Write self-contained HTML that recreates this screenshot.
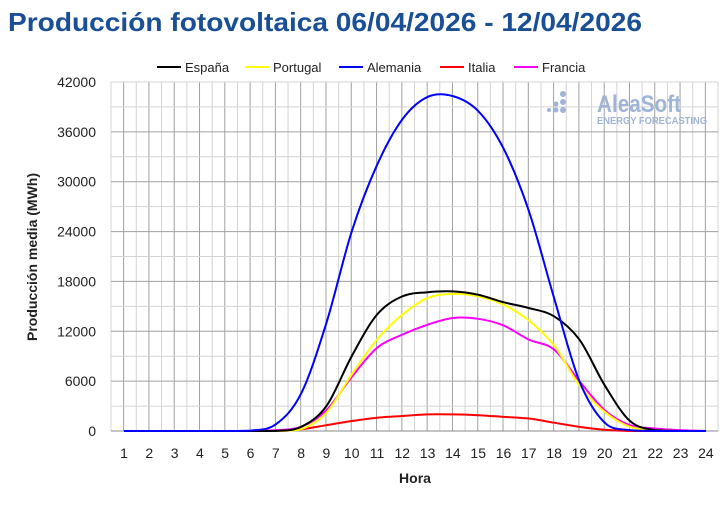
<!DOCTYPE html><html><head><meta charset="utf-8"><style>
body{margin:0;background:#fff;width:727px;height:509px;overflow:hidden;font-family:"Liberation Sans","DejaVu Sans",sans-serif}
</style></head><body>
<svg id="s" width="727" height="509" xmlns="http://www.w3.org/2000/svg" font-family="Liberation Sans, DejaVu Sans, sans-serif">
<text x="8" y="31" font-size="26" font-weight="bold" fill="#1a4f96" textLength="634" lengthAdjust="spacingAndGlyphs">Producción fotovoltaica 06/04/2026 - 12/04/2026</text>
<g id="grid"></g>
<text x="597" y="112" font-size="24" font-weight="bold" fill="#9fb4d6" textLength="84" lengthAdjust="spacingAndGlyphs">AleaSoft</text>
<g fill="#9fb4d6"><circle cx="563" cy="94" r="3"/><circle cx="563" cy="102" r="3"/><circle cx="563" cy="110" r="3"/><circle cx="556" cy="104" r="2.5"/><circle cx="556" cy="110" r="2.5"/><circle cx="549" cy="110" r="2"/></g>
<text x="597" y="124" font-size="10" font-weight="bold" fill="#9fb4d6" textLength="110" lengthAdjust="spacingAndGlyphs">ENERGY FORECASTING</text>
<g id="curves" fill="none" stroke-width="2"></g>
<g font-size="13" fill="#222">
<line x1="157" y1="67" x2="181" y2="67" stroke="#000" stroke-width="2"/><text x="185" y="72">España</text>
<line x1="245" y1="67" x2="269" y2="67" stroke="#ffff00" stroke-width="2"/><text x="273" y="72">Portugal</text>
<line x1="339" y1="67" x2="363" y2="67" stroke="#0000ff" stroke-width="2"/><text x="367" y="72">Alemania</text>
<line x1="440" y1="67" x2="464" y2="67" stroke="#ff0000" stroke-width="2"/><text x="468" y="72">Italia</text>
<line x1="514" y1="67" x2="538" y2="67" stroke="#ff00ff" stroke-width="2"/><text x="542" y="72">Francia</text>
</g>
<text transform="translate(37,257) rotate(-90)" text-anchor="middle" font-size="14" font-weight="bold" fill="#222">Producción media (MWh)</text>
<text x="415" y="483" text-anchor="middle" font-size="14" font-weight="bold" fill="#222">Hora</text>
</svg>
<script>
var ns="http://www.w3.org/2000/svg",g=document.getElementById('grid'),c=document.getElementById('curves');
function el(p,t,a){var e=document.createElementNS(ns,t);for(var k in a)e.setAttribute(k,a[k]);p.appendChild(e);return e;}
var X0=111,X1=718,Y0=431,Y1=82;
function xh(h){return 124+(h-1)*25.3;}
function yv(v){return Y0-v*(Y0-Y1)/42000;}
for(var i=0;i<=48;i++){var x=X0+i*(X1-X0)/48;el(g,'line',{x1:x,x2:x,y1:Y1,y2:Y0,stroke:i%2?'#a0a0a0':'#d4d4d4','stroke-width':1});}
for(var v=0;v<=42000;v+=3000){var y=yv(v);el(g,'line',{x1:X0,x2:X1,y1:y,y2:y,stroke:(v%6000==0&&v>0&&v<42000)?'#a0a0a0':'#d4d4d4','stroke-width':1});
if(v%6000==0){var t=el(g,'text',{x:96,y:y+5,'text-anchor':'end','font-size':14,fill:'#222'});t.textContent=v;}}
el(g,'line',{x1:X0,x2:X1,y1:Y0,y2:Y0,stroke:'#888'});
for(var h=1;h<=24;h++){var t=el(g,'text',{x:xh(h),y:458,'text-anchor':'middle','font-size':14,fill:'#222'});t.textContent=h;}
function z(n){var a=[];for(var i=0;i<n;i++)a.push(0);return a;}
var D={
'#ff00ff':z(6).concat([100,500,2500,6500,10000,11600,12800,13600,13500,12700,11000,9800,6000,2500,700,300,100,0]),
'#ff0000':z(7).concat([200,700,1200,1600,1800,2000,2000,1900,1700,1500,1000,500,150,0,0,0,0]),
'#ffff00':z(7).concat([200,2200,6800,11000,14000,16000,16500,16200,15200,13300,10300,5500,2300,500,100,0,0]),
'#000000':z(7).concat([500,3000,9000,14000,16200,16700,16800,16400,15500,14800,13800,11000,5500,1200,100,0,0]),
'#0000ff':z(5).concat([50,800,4500,13000,24000,32000,37500,40200,40300,38500,34000,26500,16000,6000,1000,100,0,0,0])};
for(var col in D){var a=D[col],p=[];for(var i=0;i<24;i++)p.push([xh(i+1),yv(a[i])]);
var d='M'+p[0];for(var i=0;i<23;i++){var p0=p[Math.max(i-1,0)],p1=p[i],p2=p[i+1],p3=p[Math.min(i+2,23)];
var c1=[p1[0]+(p2[0]-p0[0])/6,Math.min(Y0,p1[1]+(p2[1]-p0[1])/6)],c2=[p2[0]-(p3[0]-p1[0])/6,Math.min(Y0,p2[1]-(p3[1]-p1[1])/6)];
d+='C'+c1+' '+c2+' '+p2;}
el(c,'path',{d:d,stroke:col});}
</script>
</body></html>
